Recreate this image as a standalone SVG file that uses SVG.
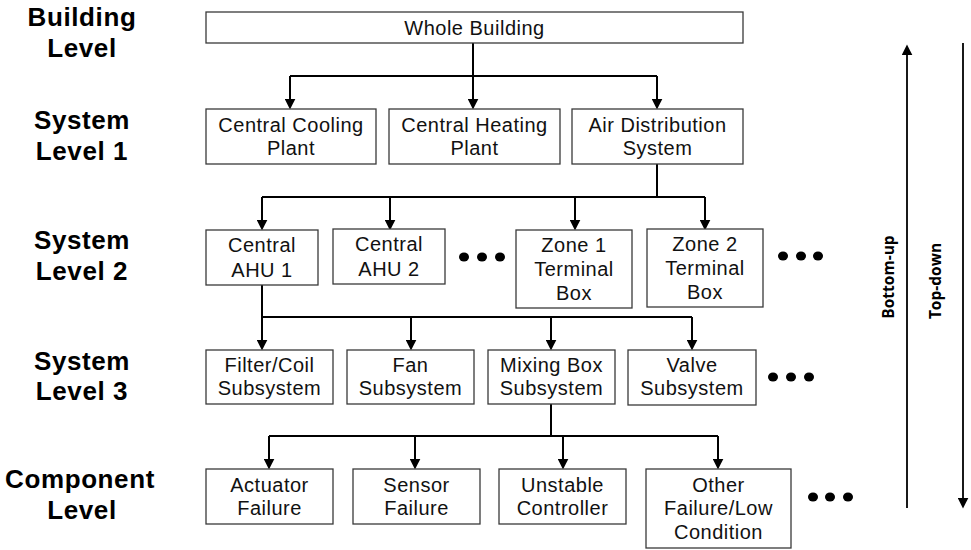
<svg xmlns="http://www.w3.org/2000/svg" width="971" height="550" viewBox="0 0 971 550">
<style>
.box{fill:#fff;stroke:#3a3a3a;stroke-width:1.3}
.t{font-family:"Liberation Sans",Arial,sans-serif;font-size:20px;letter-spacing:0.5px;fill:#111;text-anchor:middle}
.lv{font-family:"Liberation Sans",Arial,sans-serif;font-size:26px;letter-spacing:0.6px;font-weight:bold;fill:#000;text-anchor:middle}
.side{font-family:"Open Sans","Noto Sans",sans-serif;font-size:15.5px;font-weight:bold;fill:#000;text-anchor:middle}
.c{fill:none;stroke:#000;stroke-width:2}
.ca{fill:none;stroke:#000;stroke-width:2;marker-end:url(#ah)}
.side-line{fill:none;stroke:#000;stroke-width:1.8;marker-end:url(#ah)}
.dot{fill:#000}
</style>
<defs>
<marker id="ah" viewBox="0 0 10 10" refX="4" refY="5" markerWidth="11" markerHeight="11" markerUnits="userSpaceOnUse" orient="auto">
<path d="M0,0 L10,5 L0,10 z" fill="#000"/>
</marker>
</defs>
<rect width="971" height="550" fill="#fff"/>

<g id="level-labels">
<text class="lv" x="82" y="26">Building</text>
<text class="lv" x="82" y="57">Level</text>
<text class="lv" x="82" y="129">System</text>
<text class="lv" x="82" y="160">Level 1</text>
<text class="lv" x="82" y="249">System</text>
<text class="lv" x="82" y="280">Level 2</text>
<text class="lv" x="82" y="370">System</text>
<text class="lv" x="82" y="400">Level 3</text>
<text class="lv" x="80" y="488">Component</text>
<text class="lv" x="82" y="519">Level</text>
</g>

<g id="connectors">
<path class="c" d="M473,43 V76 M290,76 H657"/>
<path class="ca" d="M290,76 V103"/>
<path class="ca" d="M473,76 V103"/>
<path class="ca" d="M657,76 V103"/>
<path class="c" d="M657,164 V197 M262,197 H705"/>
<path class="ca" d="M262,197 V224"/>
<path class="ca" d="M390,197 V224"/>
<path class="ca" d="M575,197 V224"/>
<path class="ca" d="M705,197 V224"/>
<path class="c" d="M262,285 V317 M262,317 H692"/>
<path class="ca" d="M262,317 V344"/>
<path class="ca" d="M411,317 V344"/>
<path class="ca" d="M551,317 V344"/>
<path class="ca" d="M692,317 V344"/>
<path class="c" d="M551,404 V436 M269,436 H718"/>
<path class="ca" d="M269,436 V463"/>
<path class="ca" d="M415,436 V463"/>
<path class="ca" d="M563,436 V463"/>
<path class="ca" d="M718,436 V463"/>
<path class="side-line" d="M907,508 V51"/>
<path class="side-line" d="M963,43 V502"/>
</g>

<g id="whole-building"><rect class="box" x="206" y="12" width="537" height="31"/><text class="t" x="474.5" y="35">Whole Building</text></g>

<g id="central-cooling-plant"><rect class="box" x="206" y="109" width="170" height="55"/><text class="t" x="291" y="132">Central Cooling</text><text class="t" x="291" y="155">Plant</text></g>
<g id="central-heating-plant"><rect class="box" x="389" y="109" width="171" height="55"/><text class="t" x="474.5" y="132">Central Heating</text><text class="t" x="474.5" y="155">Plant</text></g>
<g id="air-distribution-system"><rect class="box" x="572" y="109" width="171" height="55"/><text class="t" x="657.5" y="132">Air Distribution</text><text class="t" x="657.5" y="155">System</text></g>

<g id="central-ahu-1"><rect class="box" x="206" y="230" width="112" height="55"/><text class="t" x="262" y="252">Central</text><text class="t" x="262" y="277">AHU 1</text></g>
<g id="central-ahu-2"><rect class="box" x="333" y="229" width="112" height="55"/><text class="t" x="389" y="251">Central</text><text class="t" x="389" y="276">AHU 2</text></g>
<g id="dots-1"><ellipse class="dot" cx="464" cy="257" rx="5" ry="4.5"/><ellipse class="dot" cx="482" cy="257" rx="5" ry="4.5"/><ellipse class="dot" cx="500" cy="257" rx="5" ry="4.5"/></g>
<g id="zone-1-terminal-box"><rect class="box" x="516" y="230" width="116" height="78"/><text class="t" x="574" y="252">Zone 1</text><text class="t" x="574" y="276">Terminal</text><text class="t" x="574" y="300">Box</text></g>
<g id="zone-2-terminal-box"><rect class="box" x="647" y="229" width="116" height="78"/><text class="t" x="705" y="251">Zone 2</text><text class="t" x="705" y="275">Terminal</text><text class="t" x="705" y="299">Box</text></g>
<g id="dots-2"><ellipse class="dot" cx="783" cy="256" rx="5" ry="4.5"/><ellipse class="dot" cx="801" cy="256" rx="5" ry="4.5"/><ellipse class="dot" cx="818" cy="256" rx="5" ry="4.5"/></g>

<g id="filter-coil-subsystem"><rect class="box" x="206" y="350" width="127" height="54"/><text class="t" x="269.5" y="372">Filter/Coil</text><text class="t" x="269.5" y="395">Subsystem</text></g>
<g id="fan-subsystem"><rect class="box" x="347" y="350" width="127" height="54"/><text class="t" x="410.5" y="372">Fan</text><text class="t" x="410.5" y="395">Subsystem</text></g>
<g id="mixing-box-subsystem"><rect class="box" x="488" y="350" width="127" height="54"/><text class="t" x="551.5" y="372">Mixing Box</text><text class="t" x="551.5" y="395">Subsystem</text></g>
<g id="valve-subsystem"><rect class="box" x="628" y="350" width="128" height="55"/><text class="t" x="692" y="372">Valve</text><text class="t" x="692" y="395">Subsystem</text></g>
<g id="dots-3"><ellipse class="dot" cx="773" cy="377" rx="5" ry="4.5"/><ellipse class="dot" cx="791" cy="377" rx="5" ry="4.5"/><ellipse class="dot" cx="809" cy="377" rx="5" ry="4.5"/></g>

<g id="actuator-failure"><rect class="box" x="206" y="469" width="127" height="55"/><text class="t" x="269.5" y="492">Actuator</text><text class="t" x="269.5" y="515">Failure</text></g>
<g id="sensor-failure"><rect class="box" x="353" y="469" width="127" height="55"/><text class="t" x="416.5" y="492">Sensor</text><text class="t" x="416.5" y="515">Failure</text></g>
<g id="unstable-controller"><rect class="box" x="499" y="469" width="127" height="55"/><text class="t" x="562.5" y="492">Unstable</text><text class="t" x="562.5" y="515">Controller</text></g>
<g id="other-failure"><rect class="box" x="646" y="469" width="145" height="79"/><text class="t" x="718.5" y="492">Other</text><text class="t" x="718.5" y="515">Failure/Low</text><text class="t" x="718.5" y="539">Condition</text></g>
<g id="dots-4"><ellipse class="dot" cx="813" cy="497" rx="5" ry="4.5"/><ellipse class="dot" cx="830" cy="497" rx="5" ry="4.5"/><ellipse class="dot" cx="848" cy="497" rx="5" ry="4.5"/></g>

<g id="direction-labels">
<text class="side" transform="translate(894,277) rotate(-90)">Bottom-up</text>
<text class="side" transform="translate(941,281) rotate(-90)">Top-down</text>
</g>
</svg>
